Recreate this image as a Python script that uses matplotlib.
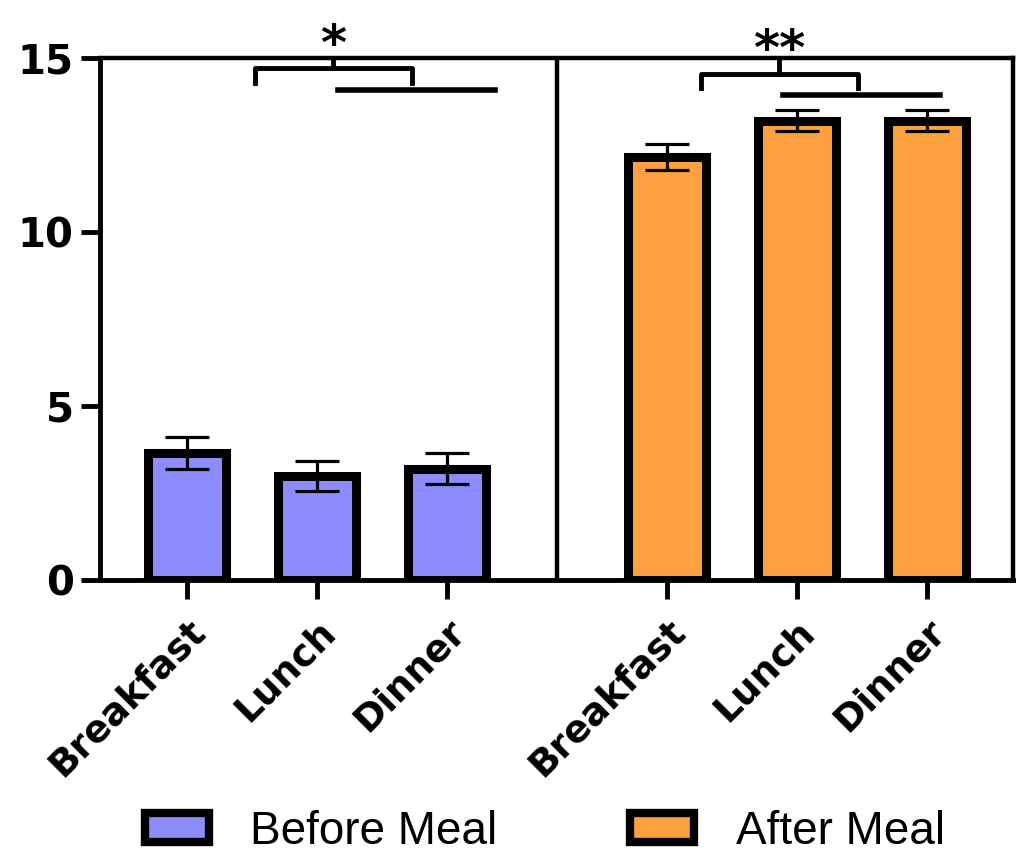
import numpy as np
import matplotlib.pyplot as plt
from matplotlib.patches import Patch

plt.rcParams['font.family'] = ['Liberation Sans', 'DejaVu Sans']

meals = ['Breakfast', 'Lunch', 'Dinner']
before_mean = [3.65, 3.0, 3.2]
before_err = [0.45, 0.43, 0.45]
after_mean = [12.15, 13.2, 13.2]
after_err = [0.38, 0.3, 0.3]

before_color = '#8C8CFF'
after_color = '#FFA040'

gap = 1.69
x_before = np.arange(3)
x_after = np.arange(3) + 2 + gap
width = 0.6

fig = plt.figure(figsize=(10.18, 8.56), dpi=100)
ax = fig.add_axes([0.0982, 0.3224, 0.8968, 0.6098])

ax.bar(x_before, before_mean, width, color=before_color, edgecolor='black', linewidth=6.5, zorder=2)
ax.bar(x_after, after_mean, width, color=after_color, edgecolor='black', linewidth=6.5, zorder=2)
ax.errorbar(x_before, before_mean, yerr=before_err, fmt='none', ecolor='black',
            elinewidth=2.3, capsize=16, capthick=2.3, zorder=3)
ax.errorbar(x_after, after_mean, yerr=after_err, fmt='none', ecolor='black',
            elinewidth=2.3, capsize=16, capthick=2.3, zorder=3)

# divider between the two groups
ax.axvline((x_before[-1] + x_after[0]) / 2, color='black', lw=3.2, zorder=1)

ax.set_xlim(-0.67, x_after[-1] + 0.66)
ax.set_ylim(0, 15)
ax.set_yticks([0, 5, 10, 15])
ax.set_xticks(list(x_before) + list(x_after))
ax.set_xticklabels(meals + meals, rotation=45, ha='right', rotation_mode='anchor',
                   fontsize=27, fontweight='bold', family='DejaVu Sans')
for lab in ax.get_yticklabels():
    lab.set_fontsize(29)
    lab.set_fontweight('bold')
    lab.set_family('DejaVu Sans')
ax.tick_params(axis='both', direction='out', length=14, width=3.5, pad=5)
ax.tick_params(axis='x', pad=10)
for side in ['left', 'bottom']:
    ax.spines[side].set_linewidth(3.5)
for side in ['top', 'right']:
    ax.spines[side].set_linewidth(3.2)


def bracket(x0, x1, y, drop, lw=3.5):
    xc = (x0 + x1) / 2
    ax.plot([x0, x0, x1, x1], [y - drop, y, y, y - drop], color='black', lw=lw,
            solid_joinstyle='round', clip_on=False, zorder=4)
    ax.plot([xc, xc], [y, 15], color='black', lw=lw, clip_on=False, zorder=4)
    return xc


# significance annotations
xc = bracket(0.52, 1.73, 14.7, 0.42)
ax.plot([1.16, 2.37], [14.09, 14.09], color='black', lw=4, clip_on=False, zorder=4)
ax.text(xc, 15.35, '*', ha='center', va='center', fontsize=36, fontweight='bold',
        family='DejaVu Sans', clip_on=False)

xc = bracket(3.95, 5.16, 14.55, 0.42)
ax.plot([4.58, 5.79], [13.95, 13.95], color='black', lw=4, clip_on=False, zorder=4)
ax.text(xc, 15.2, '**', ha='center', va='center', fontsize=36, fontweight='bold',
        family='DejaVu Sans', clip_on=False)

handles = [Patch(facecolor=before_color, edgecolor='black', linewidth=6, label='Before Meal'),
           Patch(facecolor=after_color, edgecolor='black', linewidth=6, label='After Meal')]
fig.legend(handles=handles, loc='center', bbox_to_anchor=(0.535, 0.028), ncol=2,
           frameon=False, fontsize=33, handlelength=1.4, handleheight=0.6,
           columnspacing=2.9, handletextpad=0.9)

fig.savefig('out.png', dpi=100)
